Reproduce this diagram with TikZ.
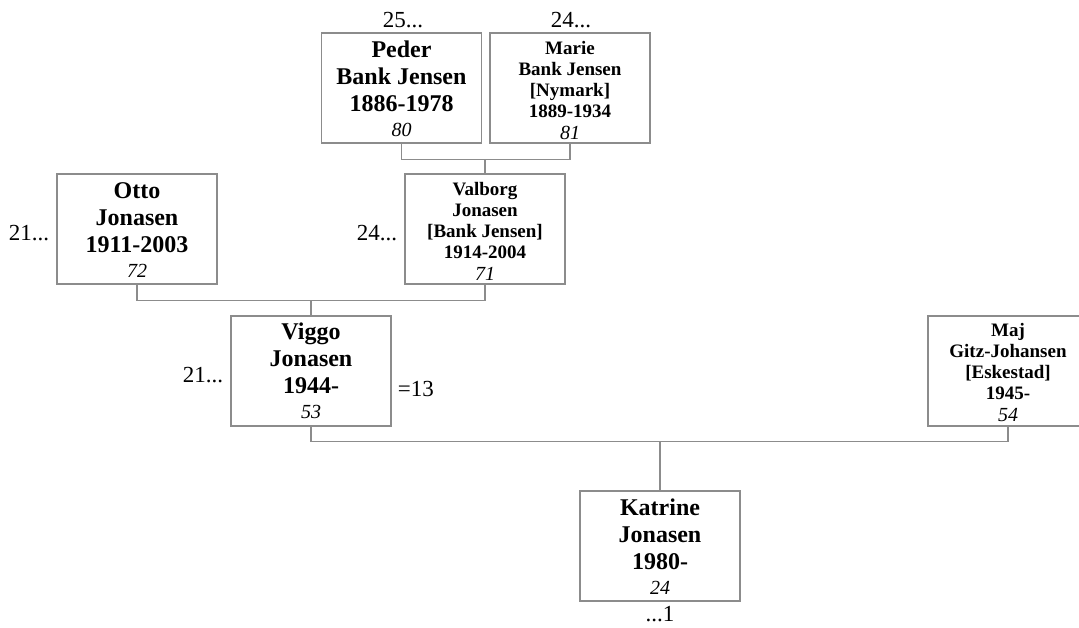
\documentclass[tikz,border=0pt]{standalone}
\usepackage{fontspec}
\setmainfont{Liberation Serif}
\definecolor{linegray}{RGB}{140,140,140}
\newcommand\bignamefont{\fontsize{24}{27}\selectfont\bfseries}
\newcommand\smallnamefont{\fontsize{19}{21}\selectfont\bfseries}
\newcommand\bigagefont{\fontsize{20}{25}\selectfont\mdseries\itshape}
\newcommand\smallagefont{\fontsize{20}{22}\selectfont\mdseries\itshape}
\newcommand\bigtext[2]{\parbox[t]{170pt}{\centering\bignamefont #1\par\bigagefont #2\par}}
\newcommand\smalltext[2]{\parbox[t]{170pt}{\centering\smallnamefont #1\par\smallagefont #2\par}}
\tikzset{
  person/.style={draw=linegray, line width=1.4pt, minimum width=160pt, minimum height=110pt, inner sep=0pt},
  boxtext/.style={anchor=base, inner sep=0pt},
  lab/.style={inner sep=0pt, font=\fontsize{23}{27}\selectfont},
  link/.style={draw=linegray, line width=1.4pt},
}
\begin{document}
\begin{tikzpicture}[x=1pt,y=-1pt]
\useasboundingbox (0,0) rectangle (1079,627);
% boxes
\node[person] (peder) at (401.5,88) {};
\node[person] (marie) at (570,88) {};
\node[person] (otto) at (137,229) {};
\node[person] (valborg) at (485,229) {};
\node[person] (viggo) at (311,371) {};
\node[person] (maj) at (1008,371) {};
\node[person] (katrine) at (660,546) {};
% box texts
\node[boxtext] (pedert) at ([yshift=-25pt]peder.north) {\bigtext{Peder\\Bank Jensen\\1886-1978}{80}};
\node[boxtext] (mariet) at ([yshift=-22pt]marie.north) {\smalltext{Marie\\Bank Jensen\\\relax[Nymark]\\1889-1934}{81}};
\node[boxtext] (ottot) at ([yshift=-25pt]otto.north) {\bigtext{Otto\\Jonasen\\1911-2003}{72}};
\node[boxtext] (valborgt) at ([yshift=-22pt]valborg.north) {\smalltext{Valborg\\Jonasen\\\relax[Bank Jensen]\\1914-2004}{71}};
\node[boxtext] (viggot) at ([yshift=-24pt]viggo.north) {\bigtext{Viggo\\Jonasen\\1944-}{53}};
\node[boxtext] (majt) at ([yshift=-21pt]maj.north) {\smalltext{Maj\\Gitz-Johansen\\\relax[Eskestad]\\1945-}{54}};
\node[boxtext] (katrinet) at ([yshift=-25pt]katrine.north) {\bigtext{Katrine\\Jonasen\\1980-}{24}};
% outside labels
\node[lab, anchor=base] (l25) at ([xshift=1.5pt,yshift=5pt]peder.north) {25...};
\node[lab, anchor=base] (l24a) at ([xshift=1pt,yshift=5pt]marie.north) {24...};
\node[lab, anchor=base east] (l21a) at ([xshift=-7pt,yshift=-11pt]otto.west) {21...};
\node[lab, anchor=base east] (l24b) at ([xshift=-7pt,yshift=-11pt]valborg.west) {24...};
\node[lab, anchor=base east] (l21b) at ([xshift=-7pt,yshift=-11pt]viggo.west) {21...};
\node[lab, anchor=base west] (l13) at ([xshift=6pt,yshift=-25pt]viggo.east) {=13};
\node[lab, anchor=base] (l1) at ([yshift=-20pt]katrine.south) {...1};
% connectors
\draw[link] (peder.south) -- ++(0,16) coordinate (b1) -| (marie.south);
\draw[link] (valborg.north) -- (valborg.north |- b1);
\draw[link] (otto.south) -- ++(0,16) coordinate (b2) -| (valborg.south);
\draw[link] (viggo.north) -- (viggo.north |- b2);
\draw[link] (viggo.south) -- ++(0,15) coordinate (b3) -| (maj.south);
\draw[link] (katrine.north) -- (katrine.north |- b3);
\end{tikzpicture}
\end{document}
